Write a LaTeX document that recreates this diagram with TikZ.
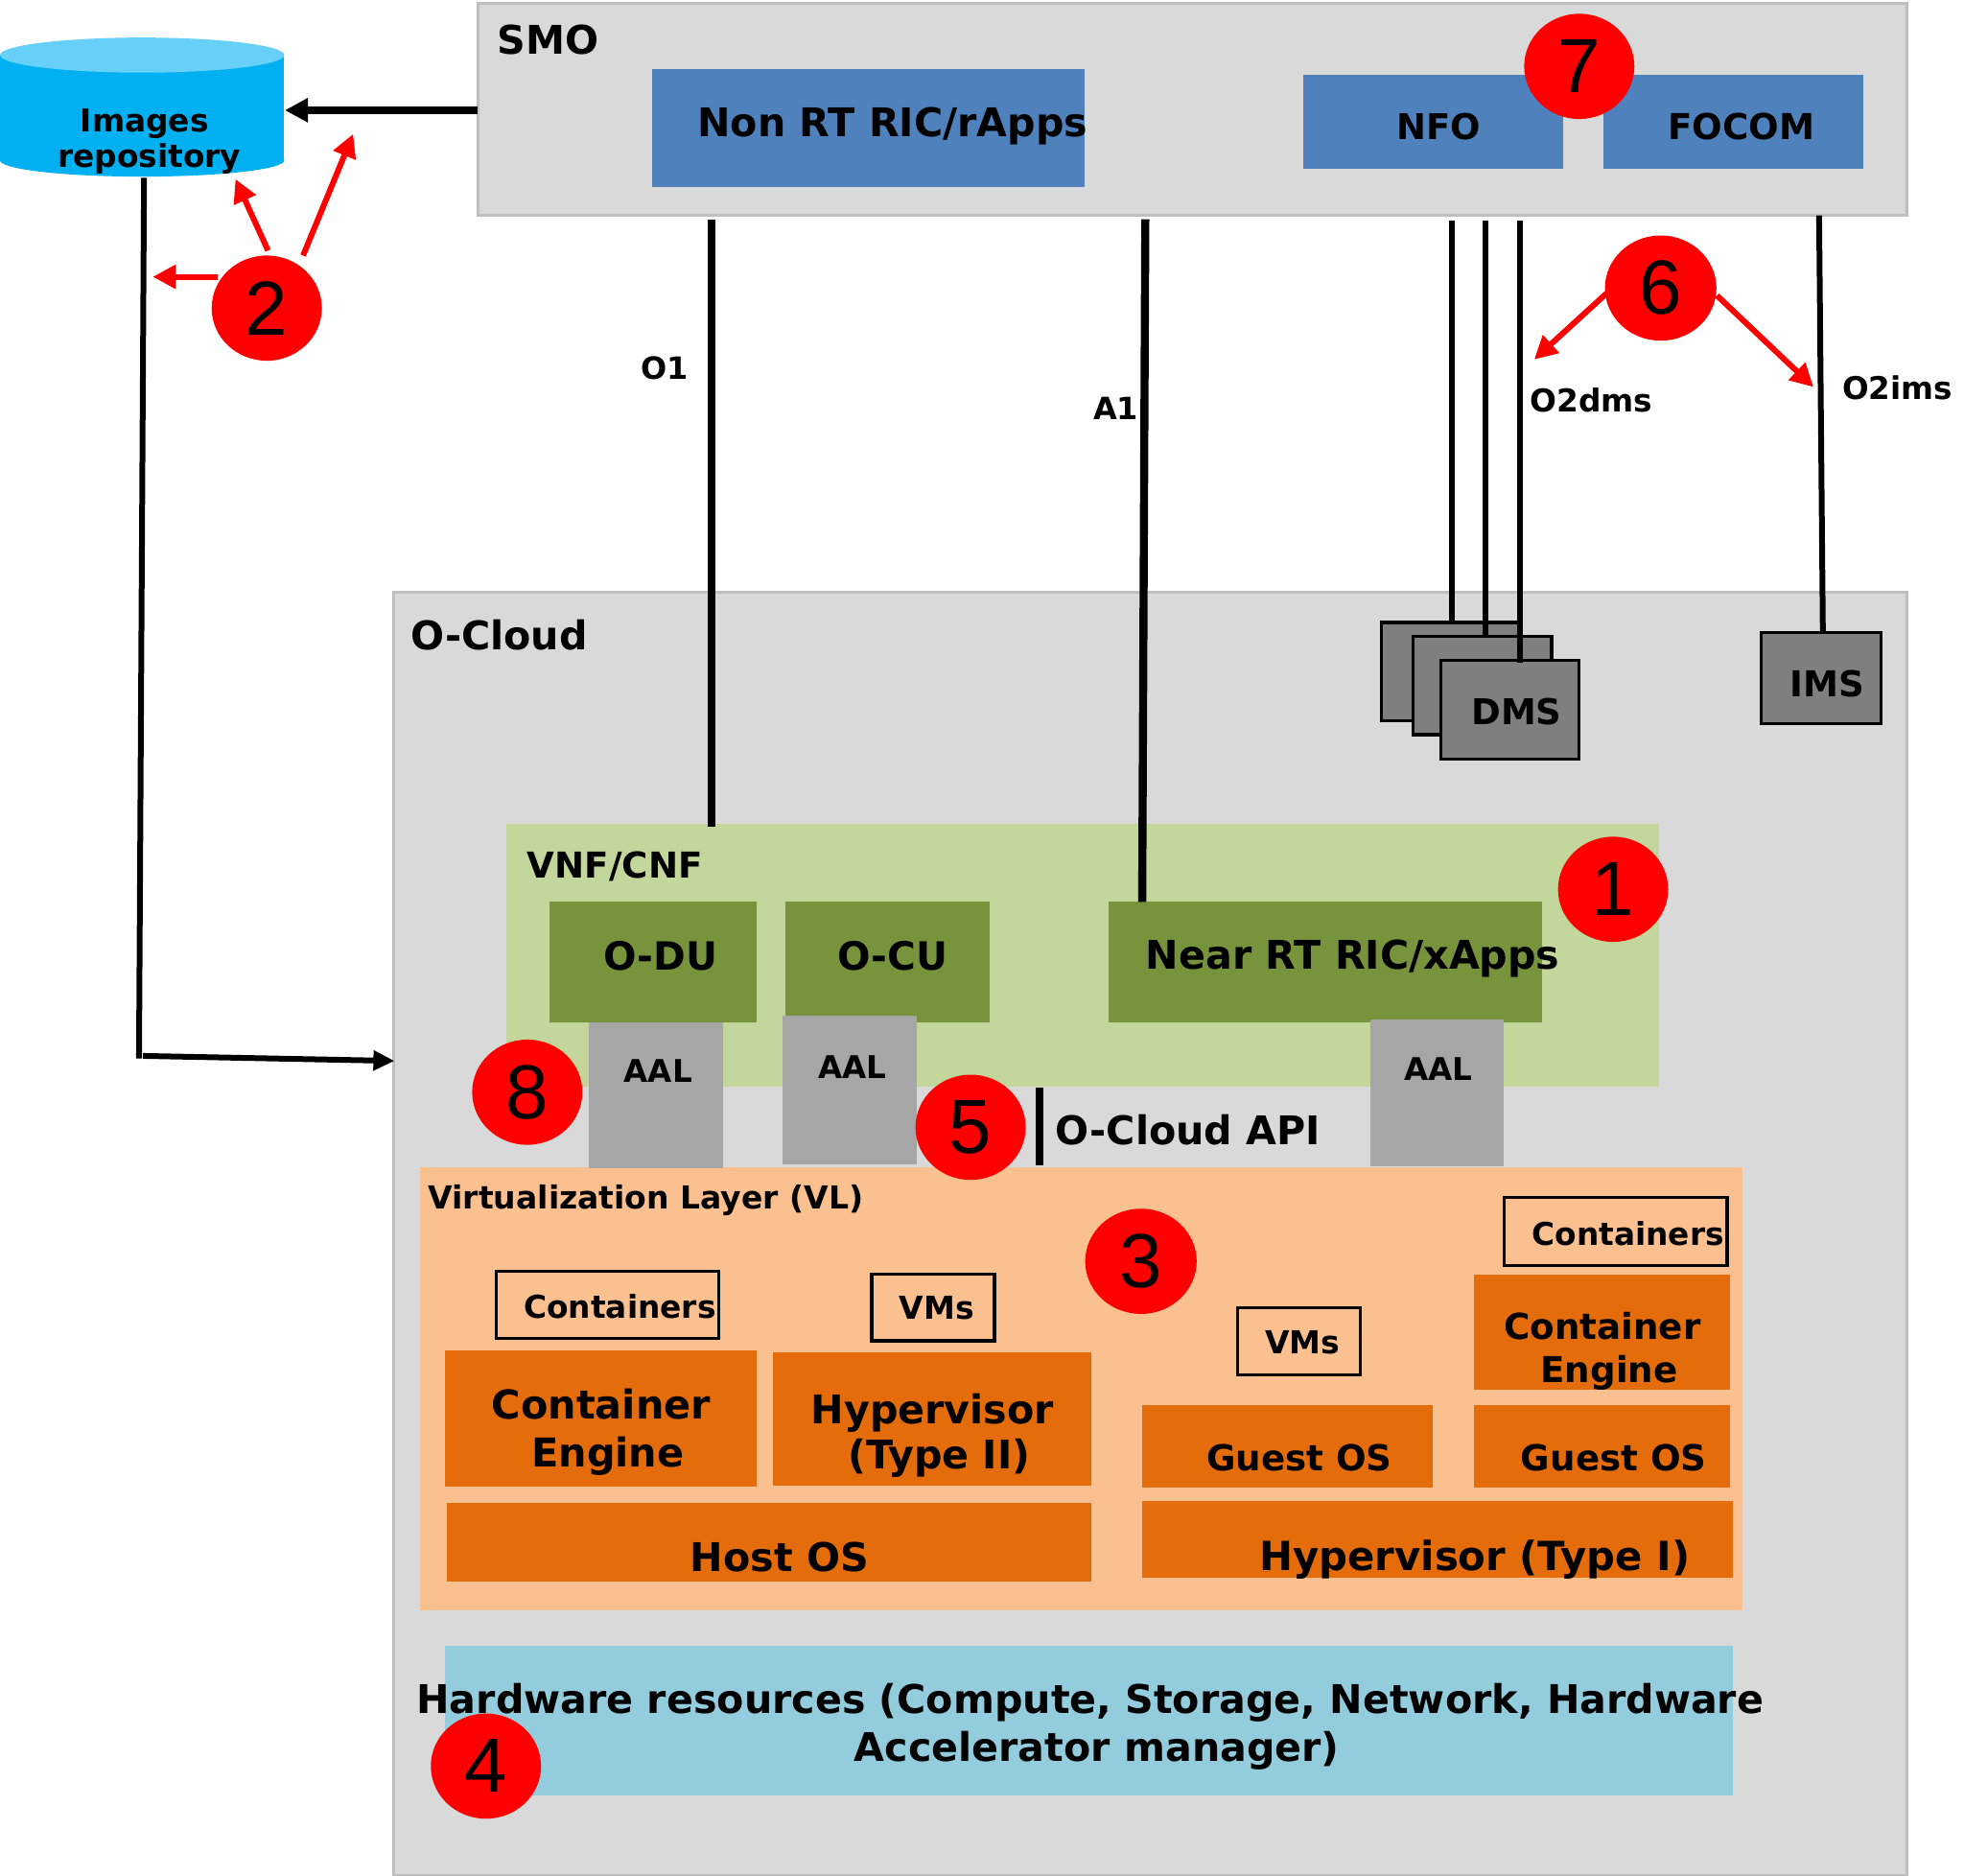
\documentclass[tikz,border=0pt]{standalone}
\usepackage{fontspec}
\setmainfont{DejaVu Sans}
\newfontfamily\numfont{Liberation Sans}
\usetikzlibrary{arrows.meta,shapes.geometric}
\definecolor{panel}{HTML}{D9D9D9}
\definecolor{panelb}{HTML}{BFBFBF}
\definecolor{smoblue}{HTML}{4F81BD}
\definecolor{vnfl}{HTML}{C3D69B}
\definecolor{vnfd}{HTML}{77933C}
\definecolor{aalg}{HTML}{A6A6A6}
\definecolor{vlo}{HTML}{FAC090}
\definecolor{oran}{HTML}{E46C0A}
\definecolor{hwb}{HTML}{93CDDD}
\definecolor{dmsg}{HTML}{7F7F7F}
\definecolor{cyl}{HTML}{00B0F0}
\definecolor{cylt}{HTML}{66D0F9}
\newcommand{\bx}[6]{\node[#2,anchor=north west,minimum width={(#5-#3)*0.653pt},minimum height={(#6-#4+1)*0.653pt}] (#1) at (#3,#4) {};}
\newcommand{\lab}[6][]{\node[lbl,font=\fontsize{#5}{#5}\selectfont\bfseries,#1] (#2) at (#3,#4) {#6};}
\newcommand{\badge}[4]{\node[numb,minimum width={#4*0.653pt}] (b#1) at (#2,#3) {\raisebox{-4.5pt}{\numfont #1}};}
\tikzset{
 box/.style={inner sep=0pt,outer sep=0pt,draw=none},
 panelbox/.style={box,fill=panel,draw=panelb,line width=1.5pt},
 sblue/.style={box,fill=smoblue},
 vnfbox/.style={box,fill=vnfl},
 nfbox/.style={box,fill=vnfd},
 aalbox/.style={box,fill=aalg},
 vlbox/.style={box,fill=vlo},
 orbox/.style={box,fill=oran},
 hwbox/.style={box,fill=hwb},
 outl/.style={box,draw=black,line width=1.6pt},
 dmsbox/.style={box,fill=dmsg,draw=black,line width=1.6pt},
 lbl/.style={inner sep=0pt,outer sep=0pt,align=center},
 numb/.style={ellipse,fill=red,inner sep=0pt,outer sep=0pt,minimum height=84*0.653pt,font=\fontsize{40}{40}\selectfont},
 thickln/.style={line width=4.2pt},
 midln/.style={line width=3pt},
 blk/.style={-{Triangle[length=12pt,width=12pt]}},
 redar/.style={red,line width=3pt,-{Triangle[length=12pt,width=12pt]}},
}
\begin{document}
\begin{tikzpicture}[x=0.653pt,y=-0.653pt]
\useasboundingbox (0,0) rectangle (1568.2,1497.7);
% SMO
\bx{smo}{panelbox}{381.5}{2.5}{1523}{171}
\lab[anchor=west]{tsmo}{397}{31.5}{20.6}{SMO}
\bx{nonrt}{sblue}{520.5}{55}{866}{148}
\lab[anchor=west]{tnonrt}{557}{100.5}{20.6}{Non RT RIC/rApps}
\bx{nfo}{sblue}{1040.5}{60}{1248}{134}
\lab{tnfo}{1148.5}{101}{18.5}{NFO}
\bx{focom}{sblue}{1280}{60}{1488}{134}
\lab{tfocom}{1390.5}{101}{18.6}{FOCOM}
% repository
\fill[cyl] (0,44) rectangle (227,128);
\fill[cyl] (113.5,128) ellipse [x radius=113.5,y radius=13];
\fill[cylt] (113.5,44) ellipse [x radius=113.5,y radius=14];
\node[box,minimum width=227*0.653pt,minimum height=111*0.653pt] (repo) at (113.5,85.5) {};
\lab{timg}{115.5}{113}{16.4}{Images\\[2pt]\hspace*{5pt}repository}
% O-Cloud
\bx{ocl}{panelbox}{314}{473}{1523}{1496}
\lab[anchor=west]{tocl}{328}{507}{20.6}{O-Cloud}
\bx{dms1}{dmsbox}{1103}{497}{1213}{574.5}
\bx{dms2}{dmsbox}{1128.5}{508}{1239}{585.5}
\bx{dms3}{dmsbox}{1150.5}{527}{1261}{605}
\lab{tdms}{1211}{568}{18.5}{DMS}
\bx{ims}{dmsbox}{1406}{505}{1502}{576.5}
\lab{tims}{1459}{546}{18.6}{IMS}
\bx{vnf}{vnfbox}{404}{658}{1325}{866.5}
\lab[anchor=west]{tvnf}{421}{692}{18.6}{VNF/CNF}
\bx{odu}{nfbox}{439}{720}{604}{815}
\lab{todu}{527.5}{763}{20.3}{O-DU}
\bx{ocu}{nfbox}{627}{720}{790}{815}
\lab{tocu}{713}{763}{20.3}{O-CU}
\bx{near}{nfbox}{885}{720}{1231}{815}
\lab[anchor=west]{tnear}{915}{765}{20.6}{Near RT RIC/xApps}
\bx{vl}{vlbox}{335}{932}{1391}{1285}
\bx{aal1}{aalbox}{470}{816}{577}{932}
\bx{aal2}{aalbox}{625}{811}{732}{928.5}
\bx{aal3}{aalbox}{1094}{814}{1201}{930}
\lab{taal1}{525.5}{855}{16.3}{AAL}
\lab{taal2}{680.5}{852}{16.3}{AAL}
\lab{taal3}{1148.5}{853.5}{16.3}{AAL}
\lab[anchor=west]{tapi}{843}{902}{20.6}{O-Cloud API}
\lab[anchor=west]{tvl}{342}{958}{16.5}{Virtualization Layer (VL)}
\bx{cont1}{outl}{396}{1015}{574}{1067.5}
\lab{tcont1}{495}{1043}{16.4}{Containers}
\bx{vms1}{outl}{696}{1017}{794}{1069.5}
\lab{tvms1}{748}{1044.5}{16.5}{VMs}
\bx{vms2}{outl}{988}{1044}{1086}{1096.5}
\lab{tvms2}{1040}{1071.5}{16.5}{VMs}
\bx{cont2}{outl}{1201}{956}{1379}{1009.5}
\lab{tcont2}{1300}{985}{16.4}{Containers}
\bx{ce1}{orbox}{355}{1078}{604}{1186}
\lab{tce1}{480}{1143.5}{20.7}{Container\\[4pt]\hspace*{7pt}Engine}
\bx{hv2}{orbox}{617}{1080}{871}{1185}
\lab{thv2}{744.5}{1146}{20.6}{Hypervisor\\[3pt]\hspace*{7pt}(Type II)}
\bx{host}{orbox}{357}{1200}{871}{1262}
\lab{thost}{622.5}{1243.5}{20.6}{Host OS}
\bx{gos1}{orbox}{912}{1122}{1144}{1186.5}
\lab{tgos1}{1037.5}{1163.5}{18.6}{Guest OS}
\bx{ce2}{orbox}{1177}{1018}{1381}{1108.5}
\lab{tce2}{1279.5}{1079}{18.6}{Container\\[4pt]\hspace*{7pt}Engine}
\bx{gos2}{orbox}{1177}{1122}{1381}{1186.5}
\lab{tgos2}{1288.5}{1163.5}{18.6}{Guest OS}
\bx{hv1}{orbox}{912}{1198}{1384}{1258.5}
\lab{thv1}{1177.5}{1245}{20.9}{Hypervisor (Type I)}
\bx{hw}{hwbox}{355}{1314}{1384}{1432.5}
\lab{thw}{870.5}{1378.5}{20.6}{Hardware resources (Compute, Storage, Network, Hardware\\[4pt]\hspace*{7pt}Accelerator manager)}
% connector ends
\coordinate (o1a) at (568,175); \coordinate (o1b) at (568,660);
\coordinate (a1a) at (914.5,175); \coordinate (a1b) at (912,720);
\coordinate (d1a) at (1159,176); \coordinate (d1b) at (1159,497);
\coordinate (d2a) at (1186,176); \coordinate (d2b) at (1186,508);
\coordinate (d3a) at (1213.5,176); \coordinate (d3b) at (1213.5,529);
\coordinate (i1a) at (1452.5,172); \coordinate (i1b) at (1455.5,505);
\coordinate (apia) at (830,868); \coordinate (apib) at (830,930);
\coordinate (smol) at (381,88); \coordinate (repor) at (227.5,88);
\coordinate (repob) at (115,142); \coordinate (down) at (111,845);
\coordinate (turn) at (114,843); \coordinate (oclin) at (315,847);
\draw[thickln,blk] (smol) -- (repor);
\draw[thickln] (o1a) -- (o1b);
\draw[thickln] (a1a) -- (a1b);
\draw[midln] (d1a) -- (d1b);
\draw[midln] (d2a) -- (d2b);
\draw[midln] (d3a) -- (d3b);
\draw[midln] (i1a) -- (i1b);
\draw[thickln] (apia) -- (apib);
\draw[midln] (repob) -- (down);
\draw[midln,-{Triangle[length=11pt,width=10pt]}] (turn) -- (oclin);
\lab{to1}{530.5}{294}{16}{O1}
\lab{ta1}{891}{326}{16}{A1}
\lab{to2d}{1270.5}{319.5}{16.4}{O2dms}
\lab{to2i}{1515}{310}{16.3}{O2ims}
% badges
\badge{1}{1288}{710}{88}
\badge{2}{213}{246}{88}
\badge{3}{911}{1007}{89}
\badge{4}{388}{1410}{88}
\badge{5}{775}{900}{88}
\badge{6}{1326}{230}{89}
\badge{7}{1261}{53}{88}
\badge{8}{421}{872}{88}
\coordinate (r1) at (122,221); \coordinate (r2) at (188,143); \coordinate (r3) at (282,107);
\coordinate (r4) at (1225,287); \coordinate (r5) at (1448,309);
\coordinate (r1s) at (174,221); \coordinate (r2s) at (214,200); \coordinate (r3s) at (242,204);
\coordinate (r4s) at (1283,234); \coordinate (r5s) at (1371,236);
\draw[redar] (r1s) -- (r1);
\draw[redar] (r2s) -- (r2);
\draw[redar] (r3s) -- (r3);
\draw[redar] (r4s) -- (r4);
\draw[redar] (r5s) -- (r5);
\end{tikzpicture}
\end{document}
